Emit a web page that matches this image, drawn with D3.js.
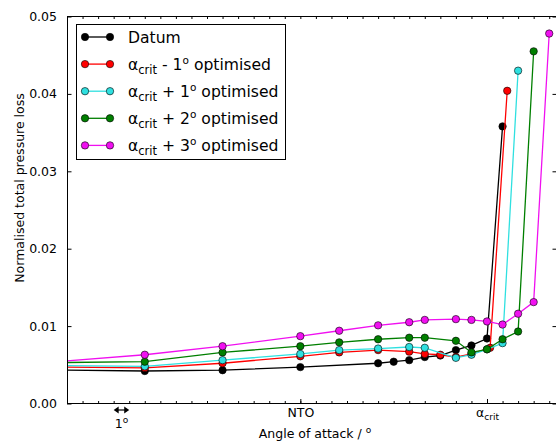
<!DOCTYPE html>
<html>
<head>
<meta charset="utf-8">
<script src="https://cdn.jsdelivr.net/npm/d3@7"></script>
<style>
body { margin: 0; background: #fff; }
text { font-family: "DejaVu Sans", sans-serif; fill: #000; }
</style>
</head>
<body>
<svg id="chart" width="556" height="445"></svg>
<script>
// angle of attack in degrees, measured from NTO (alpha_crit sits at NTO + 12)
var datumX  = [-20, -10, -5, 0, 5, 6, 7, 8, 9, 10, 11, 12, 13];
var datumY  = [0.0044, 0.0042, 0.0043, 0.0047, 0.0052, 0.0054, 0.0056, 0.0060, 0.0062, 0.0069, 0.0075, 0.0084, 0.0358];
var minus1X = [-20, -10, -5, 0, 2.5, 5, 7, 8, 9, 10, 11, 12.2, 13.3];
var minus1Y = [0.0048, 0.0046, 0.0052, 0.0061, 0.0066, 0.0069, 0.0067, 0.0064, 0.0063, 0.0060, 0.0064, 0.0072, 0.0404];
var plus1X  = [-20, -10, -5, 0, 2.5, 5, 7, 8, 10, 11, 12, 13, 14];
var plus1Y  = [0.0050, 0.0048, 0.0056, 0.0064, 0.0069, 0.0071, 0.0073, 0.0072, 0.0059, 0.0063, 0.0070, 0.0078, 0.0430];
var plus2X  = [-20, -10, -5, 0, 2.5, 5, 7, 8, 10, 11, 12, 13, 14, 15];
var plus2Y  = [0.0052, 0.0054, 0.0066, 0.0074, 0.0079, 0.0083, 0.0085, 0.0085, 0.0081, 0.0066, 0.0070, 0.0083, 0.0093, 0.0455];
var plus3X  = [-20, -10, -5, 0, 2.5, 5, 7, 8, 10, 11, 12, 13, 14, 15, 16];
var plus3Y  = [0.0047, 0.0063, 0.0074, 0.0087, 0.0094, 0.0101, 0.0105, 0.0108, 0.0109, 0.0108, 0.0106, 0.0102, 0.0116, 0.0131, 0.0478];

var seriesLabels = ["Datum", " - 1", " + 1", " + 2", " + 3"];
var seriesColors = ["#000000", "#ff0000", "#2fe0e0", "#007f00", "#f010f0"];
var yTicks = [0, 0.01, 0.02, 0.03, 0.04, 0.05];
var xMajorTicks = [0, 12];
var xMajorLabels = ["NTO", "crit"];

var series = [
    { x: datumX, y: datumY },
    { x: minus1X, y: minus1Y },
    { x: plus1X, y: plus1Y },
    { x: plus2X, y: plus2Y },
    { x: plus3X, y: plus3Y }
].map(function (s, i) {
    return {
        label: seriesLabels[i],
        color: seriesColors[i],
        points: s.x.map(function (d, j) { return [d, s.y[j]]; })
    };
});

const plotLeft = 67, plotRight = 557, plotTop = 16.5, plotBottom = 403.5;

const svg = d3.select("#chart");

const xScale = d3.scaleLinear().domain([-15, 16.5]).range([plotLeft, plotRight]);
const yScale = d3.scaleLinear().domain([0, 0.05]).range([plotBottom, plotTop]);

svg.append("clipPath").attr("id", "plotClip")
    .append("rect")
    .attr("x", plotLeft).attr("y", plotTop)
    .attr("width", plotRight - plotLeft).attr("height", plotBottom - plotTop);

// lines and markers
const plot = svg.append("g").attr("clip-path", "url(#plotClip)");
const line = d3.line().x(d => xScale(d[0])).y(d => yScale(d[1]));

series.forEach(function (s) {
    plot.append("path")
        .attr("d", line(s.points))
        .attr("fill", "none")
        .attr("stroke", s.color)
        .attr("stroke-width", 1.3);
    plot.selectAll(null)
        .data(s.points)
        .join("circle")
        .attr("cx", d => xScale(d[0]))
        .attr("cy", d => yScale(d[1]))
        .attr("r", 3.7)
        .attr("fill", s.color)
        .attr("stroke", "#000")
        .attr("stroke-width", 0.6);
});

// ticks (inward, classic style)
const minorTicks = d3.range(-15, 17);

svg.append("g").attr("transform", `translate(0,${plotBottom})`)
    .call(d3.axisBottom(xScale).tickValues(minorTicks).tickSize(-2.5).tickFormat(""))
    .call(g => g.select(".domain").remove());
svg.append("g").attr("transform", `translate(0,${plotTop})`)
    .call(d3.axisTop(xScale).tickValues(minorTicks).tickSize(-2.5).tickFormat(""))
    .call(g => g.select(".domain").remove());

const xMajor = svg.append("g").attr("transform", `translate(0,${plotBottom})`)
    .call(d3.axisBottom(xScale).tickValues(xMajorTicks).tickSize(-4.5).tickPadding(5)
        .tickFormat((d, i) => xMajorLabels[i]))
    .call(g => g.select(".domain").remove());
xMajor.selectAll("text").style("font-size", "12.5px");

// alpha_crit label with subscript
xMajor.selectAll("text").filter((d, i) => i === 1).each(function () {
    const t = d3.select(this).text("");
    t.append("tspan").text("\u03b1");
    t.append("tspan").attr("dy", 3).style("font-size", "9px").text("crit");
});

const yAxis = svg.append("g").attr("transform", `translate(${plotLeft},0)`)
    .call(d3.axisLeft(yScale).tickValues(yTicks).tickSize(-4.5).tickPadding(10).tickFormat(d3.format(".2f")))
    .call(g => g.select(".domain").remove());
yAxis.selectAll("text").style("font-size", "12.5px");

svg.append("g").attr("transform", `translate(${plotRight},0)`)
    .call(d3.axisRight(yScale).tickValues(yTicks).tickSize(-4.5).tickFormat(""))
    .call(g => g.select(".domain").remove());

// frame
svg.append("rect")
    .attr("x", plotLeft + 0.5).attr("y", plotTop)
    .attr("width", plotRight - plotLeft).attr("height", plotBottom - plotTop)
    .attr("fill", "none").attr("stroke", "#000").attr("stroke-width", 1);

// 1 degree indicator
const arrowY = 410;
const ax0 = xScale(-12), ax1 = xScale(-11);
svg.append("line")
    .attr("x1", ax0 + 3).attr("x2", ax1 - 3)
    .attr("y1", arrowY).attr("y2", arrowY)
    .attr("stroke", "#000").attr("stroke-width", 1.2);
svg.append("path")
    .attr("d", `M${ax0},${arrowY}l5,-3.5v7z M${ax1},${arrowY}l-5,-3.5v7z`)
    .attr("fill", "#000");
const oneDeg = svg.append("text")
    .attr("x", (ax0 + ax1) / 2).attr("y", 428)
    .attr("text-anchor", "middle")
    .style("font-size", "12.5px");
oneDeg.append("tspan").text("1");
oneDeg.append("tspan").attr("dy", -5).style("font-size", "9px").text("o");

// axis labels
const xLabel = svg.append("text")
    .attr("x", 315).attr("y", 438)
    .attr("text-anchor", "middle")
    .style("font-size", "12.5px");
xLabel.append("tspan").text("Angle of attack / ");
xLabel.append("tspan").attr("dy", -5).style("font-size", "9px").text("o");

svg.append("text")
    .attr("transform", "translate(24,188) rotate(-90)")
    .attr("text-anchor", "middle")
    .style("font-size", "12.5px")
    .text("Normalised total pressure loss");

// legend
const legend = svg.append("g");
legend.append("rect")
    .attr("x", 76.5).attr("y", 24.5)
    .attr("width", 209).attr("height", 135)
    .attr("fill", "#fff").attr("stroke", "#000").attr("stroke-width", 1);

series.forEach(function (s, i) {
    const ly = 37 + i * 27.1;
    legend.append("line")
        .attr("x1", 85).attr("x2", 110).attr("y1", ly).attr("y2", ly)
        .attr("stroke", s.color).attr("stroke-width", 1.3);
    legend.selectAll(null).data([85, 110]).join("circle")
        .attr("cx", d => d).attr("cy", ly).attr("r", 3.7)
        .attr("fill", s.color).attr("stroke", "#000").attr("stroke-width", 0.6);
    const t = legend.append("text")
        .attr("x", 128).attr("y", ly + 5.5)
        .style("font-size", "15.6px");
    if (i === 0) {
        t.text(s.label);
    } else {
        t.append("tspan").text("\u03b1");
        t.append("tspan").attr("dy", 4).style("font-size", "11.5px").text("crit");
        t.append("tspan").attr("dy", -4).text(s.label);
        t.append("tspan").attr("dy", -6).style("font-size", "10.5px").text("o");
        t.append("tspan").attr("dy", 6).text(" optimised");
    }
});
</script>
</body>
</html>
